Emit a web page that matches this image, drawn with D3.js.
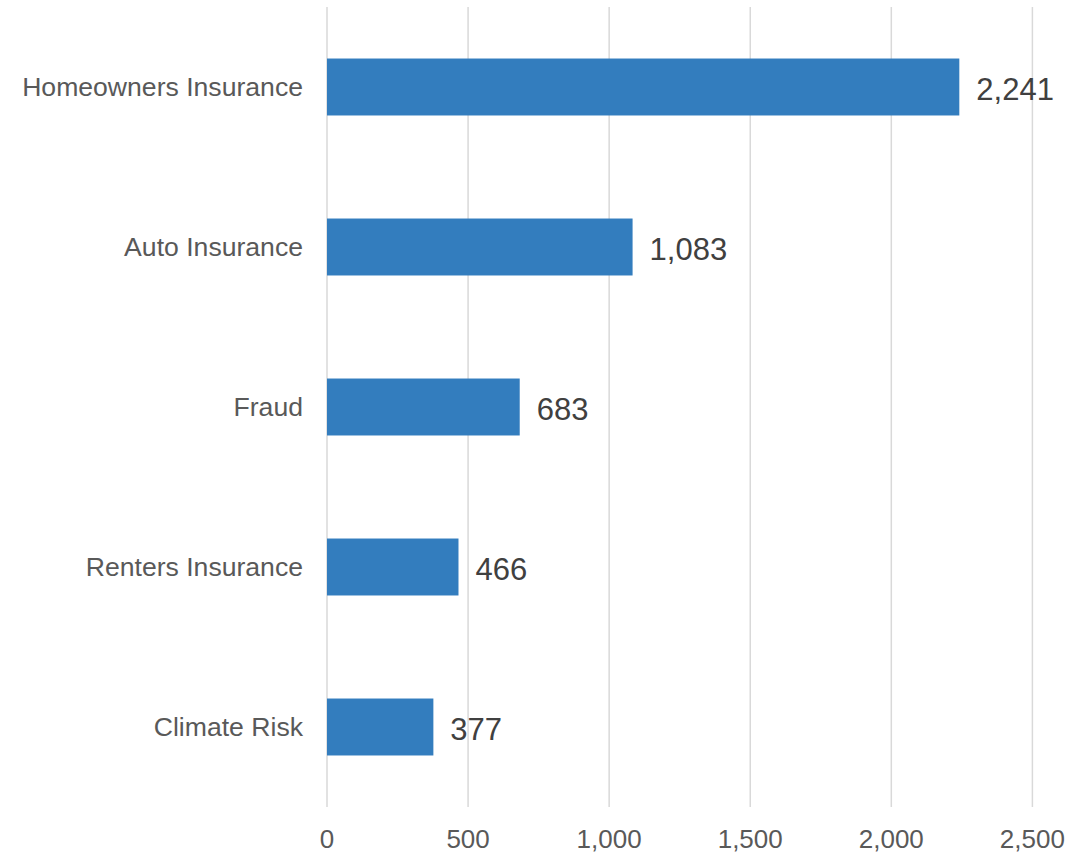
<!DOCTYPE html>
<html>
<head>
<meta charset="utf-8">
<script src="https://cdn.jsdelivr.net/npm/d3@7"></script>
<style>
  html, body { margin: 0; padding: 0; background: #ffffff; }
  svg { display: block; font-family: "Liberation Sans", Arial, Helvetica, sans-serif; }
</style>
</head>
<body>
<svg id="chart" width="1091" height="853"></svg>
<script>
// Complaint counts by topic
const categories = ["Homeowners Insurance", "Auto Insurance", "Fraud", "Renters Insurance", "Climate Risk"];
const values = [2241, 1083, 683, 466, 377];
const xTicks = [0, 500, 1000, 1500, 2000, 2500];

const svg = d3.select("#chart");

const x = d3.scaleLinear().domain([0, 2500]).range([327, 1032.4]);
const y = d3.scaleBand().domain(categories).range([7, 807])
  .paddingInner(0.644).paddingOuter(0.322);

const fmt = d3.format(",");

// vertical gridlines
svg.append("g")
  .selectAll("line")
  .data(xTicks)
  .join("line")
  .attr("x1", d => x(d)).attr("x2", d => x(d))
  .attr("y1", 7).attr("y2", 807)
  .attr("stroke", "#d9d9d9")
  .attr("stroke-width", 1.5);

// x tick labels
svg.append("g")
  .selectAll("text")
  .data(xTicks)
  .join("text")
  .attr("x", d => x(d))
  .attr("y", 848)
  .attr("text-anchor", "middle")
  .attr("font-size", 26)
  .attr("fill", "#595959")
  .text(d => fmt(d));

// bars
svg.append("g")
  .selectAll("rect")
  .data(values)
  .join("rect")
  .attr("x", x(0))
  .attr("y", (d, i) => y(categories[i]))
  .attr("width", d => x(d) - x(0))
  .attr("height", y.bandwidth())
  .attr("fill", "#337dbe");

// category labels
svg.append("g")
  .selectAll("text")
  .data(categories)
  .join("text")
  .attr("x", 303)
  .attr("y", d => y(d) + y.bandwidth() / 2 + 9)
  .attr("text-anchor", "end")
  .attr("font-size", 26.6)
  .attr("fill", "#595959")
  .text(d => d);

// value labels
svg.append("g")
  .selectAll("text")
  .data(values)
  .join("text")
  .attr("x", d => x(d) + 17)
  .attr("y", (d, i) => y(categories[i]) + y.bandwidth() / 2 + 13)
  .attr("font-size", 31)
  .attr("fill", "#404040")
  .text(d => fmt(d));
</script>
</body>
</html>
